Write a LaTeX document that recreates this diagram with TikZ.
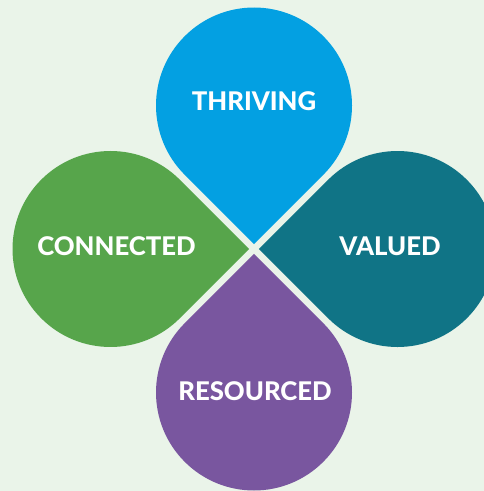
\documentclass[tikz,border=0pt]{standalone}
\usepackage{fontspec}
\setmainfont{Lato}[BoldFont={Lato Heavy}]
\usepackage{tikz}
\definecolor{bgmint}{RGB}{234,244,233}
\definecolor{petalblue}{RGB}{3,160,226}
\definecolor{petalteal}{RGB}{16,116,134}
\definecolor{petalgreen}{RGB}{87,165,75}
\definecolor{petalpurple}{RGB}{121,86,159}
\tikzset{petaltext/.style={text=white, font=\bfseries\fontsize{18.3}{20}\selectfont, inner sep=0pt}}

\begin{document}
\begin{tikzpicture}[x=0.025cm,y=-0.025cm]
		%\draw [help lines] (0,0) grid (484,491);
		\useasboundingbox (0,0) rectangle (484,491);
		\clip (0,0) rectangle (484,491);
		\fill [bgmint] (0,0) rectangle (484,491);
		%top
		\fill [petalblue] (254,244.1) -- (323.3,174.8) arc [start angle=45, end angle=-225, radius=98] -- cycle;
		%left
		\fill [petalgreen] (249.1,249) -- (179.8,179.7) arc [start angle=-45, end angle=-315, radius=98] -- cycle;
		%right
		\fill [petalteal] (258.9,249) -- (328.2,318.3) arc [start angle=135, end angle=-135, radius=98] -- cycle;
		%bottom
		\fill [petalpurple] (254,253.9) -- (184.7,323.2) arc [start angle=-135, end angle=-405, radius=98] -- cycle;
		%labels
		\node [petaltext] (thriving) at (254,101) {THRIVING};
		\node [petaltext] (connected) at (116.5,246) {CONNECTED};
		\node [petaltext] (valued) at (390,246) {VALUED};
		\node [petaltext] (resourced) at (255,391) {RESOURCED};
\end{tikzpicture}
\end{document}
